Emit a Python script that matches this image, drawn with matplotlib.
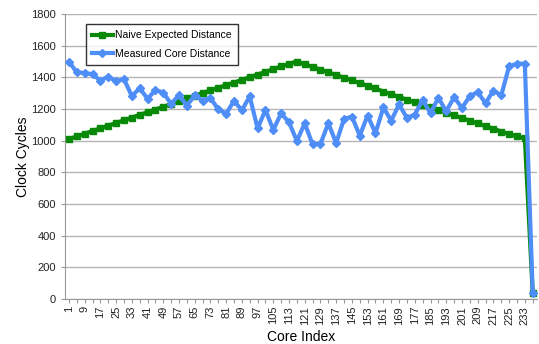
import matplotlib
matplotlib.use('Agg')
from matplotlib import pyplot as plt

plt.rcParams['font.family'] = ['Liberation Sans', 'DejaVu Sans']

px = 1 / 100

# core index categories (every 4th core) and label every 8th
cores = list(range(1, 238, 4))

naive = [1010, 1027, 1044, 1061, 1078, 1095, 1112, 1129, 1146, 1163,
         1180, 1197, 1214, 1231, 1250, 1267, 1284, 1301, 1318, 1335,
         1350, 1367, 1384, 1401, 1418, 1435, 1452, 1469, 1486, 1500,
         1483, 1466, 1449, 1432, 1415, 1398, 1381, 1364, 1347, 1330,
         1310, 1293, 1276, 1259, 1242, 1228, 1211, 1194, 1177, 1160,
         1143, 1126, 1109, 1092, 1075, 1058, 1041, 1028, 1015, 40]

measured = [1500, 1432, 1428, 1420, 1380, 1405, 1375, 1390, 1282, 1332,
            1265, 1320, 1304, 1233, 1288, 1222, 1286, 1254, 1270, 1198,
            1171, 1252, 1192, 1280, 1078, 1194, 1068, 1173, 1116, 998,
            1110, 976, 980, 1110, 985, 1138, 1152, 1032, 1159, 1047,
            1210, 1127, 1229, 1144, 1165, 1258, 1173, 1271, 1186, 1275,
            1207, 1281, 1307, 1237, 1317, 1286, 1470, 1487, 1487, 40]

GREEN = '#088a08'
BLUE = '#4f8ef7'

fig = plt.figure(figsize=(539 * px, 344 * px), dpi=100)
ax = fig.add_axes([0.1206, 0.131, 0.875, 0.828])

idx = list(range(len(cores)))
ax.plot(idx, naive, color=GREEN, linewidth=3, marker='s', markersize=4.5,
        label='Naive Expected Distance', zorder=3)
ax.plot(idx, measured, color=BLUE, linewidth=3, marker='D', markersize=4.5,
        label='Measured Core Distance', zorder=4)

ax.set_xlim(-0.5, len(cores) - 0.5)
ax.set_ylim(0, 1800)
ax.set_yticks(range(0, 1801, 200))
ax.set_xticks(idx)
ax.set_xticklabels([str(c) if i % 2 == 0 else '' for i, c in enumerate(cores)],
                   rotation=90, fontsize=8, color='#222222')
ax.tick_params(axis='y', labelsize=8, labelcolor='#222222', length=3, color='#999999')
ax.tick_params(axis='x', length=3, color='#999999', pad=2)

ax.grid(axis='y', color='#b5b5b5', linewidth=1)
ax.set_axisbelow(True)
for s in ['top', 'right']:
    ax.spines[s].set_visible(False)
for s in ['left', 'bottom']:
    ax.spines[s].set_color('#999999')

ax.set_xlabel('Core Index', fontsize=10, labelpad=4)
ax.set_ylabel('Clock Cycles', fontsize=10, labelpad=1)

leg = ax.legend(loc='upper left', bbox_to_anchor=(0.044, 0.965), borderaxespad=0,
                fontsize=7.5, fancybox=False, edgecolor='black', handlelength=2,
                handletextpad=0.2, borderpad=0.6, labelspacing=0.8, markerscale=0.9)
leg.get_frame().set_linewidth(1)

plt.savefig('out.png', dpi=100)
plt.close()
